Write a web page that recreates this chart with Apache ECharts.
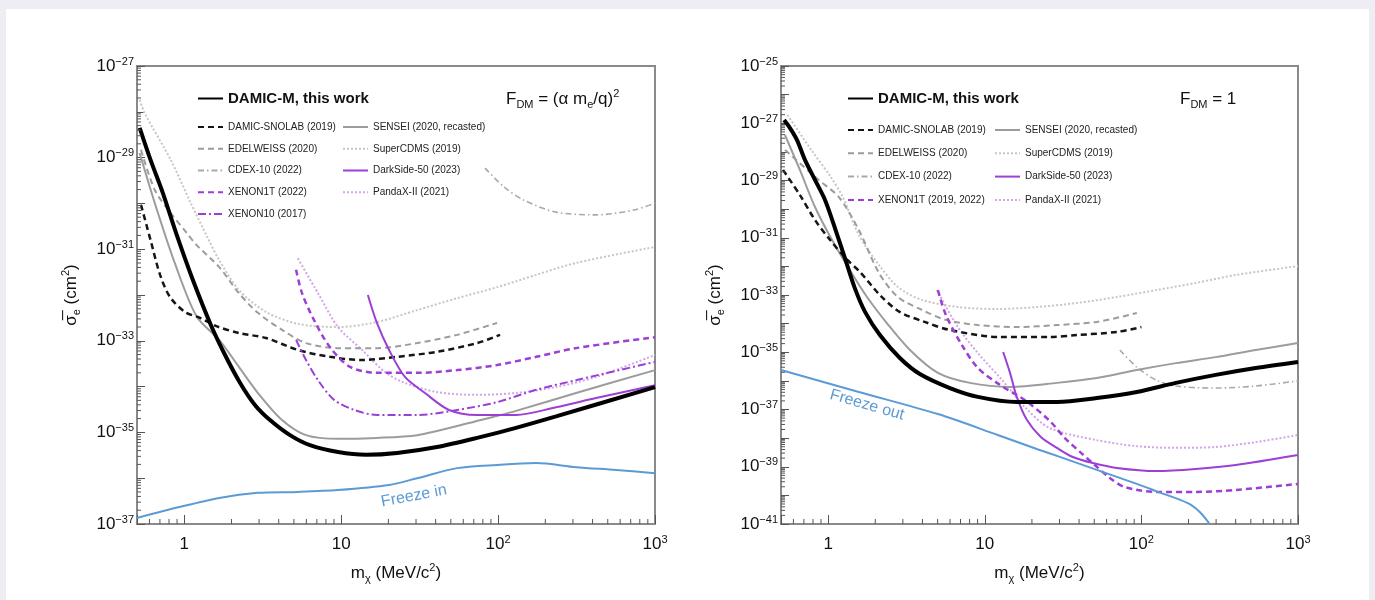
<!DOCTYPE html>
<html><head><meta charset="utf-8">
<script src="https://cdn.jsdelivr.net/npm/echarts@6/dist/echarts.min.js"></script>
<style>
html,body{margin:0;padding:0;background:#eeedf3;width:1375px;height:600px;overflow:hidden}
#card{position:absolute;left:6px;top:9px;width:1363px;height:600px;background:#fff}
#chart{position:absolute;left:0;top:0;width:1375px;height:600px}
</style></head><body><div id="card"></div><div id="chart"></div>
<script>
// ---------- Axis ranges / tick labels ----------
const xRange = [0.5, 1000];
const yRangeLeft = [-37, -27];   // log10(sigma_e / cm^2)
const yRangeRight = [-41, -25];
const minorMult = [2, 3, 4, 5, 6, 7, 8, 9];

// ---------- Left panel: F_DM = (alpha m_e / q)^2 ; values are log10(sigma_e/cm^2) ----------
const damicM_L_m = [0.52, 0.61, 0.73, 0.90, 1.14, 1.48, 1.82, 2.27, 2.82, 3.52, 4.72, 6.33, 9.55, 14.4, 22.7, 40.8, 73.5, 130, 234, 1000];
const damicM_L_s = [-28.35, -29.05, -29.77, -30.71, -31.69, -32.66, -33.31, -33.92, -34.40, -34.73, -35.06, -35.28, -35.43, -35.49, -35.45, -35.32, -35.12, -34.90, -34.65, -34.01];
const sensei_L_m = [0.52, 0.65, 0.87, 1.20, 1.67, 2.23, 2.95, 4.20, 5.97, 9.55, 16.9, 30.5, 54.8, 98.5, 130, 314, 1000];
const sensei_L_s = [-28.9, -30.0, -31.3, -32.47, -32.98, -33.57, -34.14, -34.73, -35.06, -35.14, -35.12, -35.06, -34.86, -34.64, -34.53, -34.14, -33.64];
const snolab_L_m = [0.53, 0.61, 0.70, 0.81, 1.01, 1.26, 1.60, 2.23, 3.32, 5.31, 8.49, 13.6, 22.7, 40.8, 73.5, 103];
const snolab_L_s = [-30.03, -30.80, -31.55, -32.04, -32.37, -32.50, -32.68, -32.83, -32.94, -33.20, -33.35, -33.42, -33.35, -33.24, -33.05, -32.87];
const edelweiss_L_m = [0.53, 0.65, 0.82, 1.04, 1.20, 1.67, 2.23, 2.95, 4.20, 5.97, 9.55, 16.9, 30.5, 54.8, 98.5];
const edelweiss_L_s = [-28.83, -29.71, -30.21, -30.65, -30.91, -31.39, -31.96, -32.39, -32.76, -33.05, -33.16, -33.16, -33.05, -32.87, -32.61];
const supercdms_L_m = [0.52, 0.56, 0.82, 1.10, 1.40, 1.67, 2.23, 3.32, 5.31, 9.55, 16.9, 30.5, 54.8, 98.5, 175, 314, 1000];
const supercdms_L_s = [-27.74, -28.03, -29.05, -29.99, -30.73, -31.24, -31.89, -32.37, -32.63, -32.70, -32.59, -32.33, -32.07, -31.83, -31.56, -31.30, -30.95];
const cdex_L_m = [82.6, 109, 146, 234, 421, 746, 1000];
const cdex_L_s = [-29.23, -29.64, -29.93, -30.19, -30.25, -30.14, -29.99];
const xenon1t_L_m = [5.16, 5.63, 6.72, 8.49, 11.4, 16.9, 30.5, 54.8, 98.5, 175, 314, 1000];
const xenon1t_L_s = [-31.45, -31.96, -32.55, -33.14, -33.57, -33.70, -33.70, -33.64, -33.53, -33.35, -33.16, -32.92];
const xenon10_L_m = [5.16, 5.97, 7.12, 9.01, 12.1, 16.9, 30.5, 54.8, 98.5, 175, 314, 1000];
const xenon10_L_s = [-32.98, -33.42, -33.86, -34.29, -34.51, -34.62, -34.62, -34.51, -34.34, -34.07, -33.86, -33.46];
const darkside_L_m = [14.8, 16.9, 20.2, 25.5, 34.2, 48.7, 73.5, 130, 234, 421, 1000];
const darkside_L_s = [-32.0, -32.61, -33.20, -33.79, -34.14, -34.51, -34.62, -34.62, -34.45, -34.25, -33.97];
const pandax_L_m = [5.3, 7.12, 9.55, 13.6, 19.0, 25.5, 40.8, 73.5, 130, 234, 421, 1000];
const pandax_L_s = [-31.2, -31.96, -32.70, -33.20, -33.68, -33.92, -34.12, -34.18, -34.14, -34.01, -33.79, -33.31];
const freezeIn_m = [0.5, 0.93, 1.67, 2.95, 5.31, 9.55, 20.2, 30.5, 54.8, 98.5, 175, 314, 565, 1000];
const freezeIn_s = [-36.87, -36.63, -36.43, -36.32, -36.30, -36.26, -36.15, -36.00, -35.78, -35.71, -35.67, -35.76, -35.82, -35.89];

// ---------- Right panel: F_DM = 1 ----------
const damicM_R_m = [0.523, 0.571, 0.633, 0.711, 0.824, 0.955, 1.105, 1.28, 1.48, 1.72, 2.14, 2.87, 3.85, 5.99, 9.04, 16.0, 28.9, 51.9, 93.5, 166, 298, 537, 1000];
const damicM_R_s = [-26.89, -27.17, -27.59, -28.28, -28.98, -29.68, -30.66, -31.71, -32.76, -33.59, -34.40, -35.20, -35.76, -36.25, -36.56, -36.74, -36.74, -36.60, -36.39, -36.07, -35.79, -35.55, -35.34];
const sensei_R_m = [0.53, 0.66, 0.82, 1.04, 1.40, 1.77, 2.37, 3.33, 5.02, 8.04, 14.5, 28.9, 51.9, 93.5, 166, 298, 537, 1000];
const sensei_R_s = [-27.41, -28.63, -29.90, -31.00, -32.20, -33.07, -33.98, -34.92, -35.72, -36.07, -36.21, -36.07, -35.90, -35.62, -35.38, -35.17, -34.92, -34.68];
const snolab_R_m = [0.515, 0.661, 0.824, 1.03, 1.29, 1.60, 2.14, 2.86, 4.13, 5.95, 12.5, 25.7, 38.7, 69.7, 100];
const snolab_R_s = [-28.63, -29.51, -30.38, -31.08, -31.71, -32.20, -33.00, -33.59, -33.94, -34.22, -34.47, -34.47, -34.40, -34.29, -34.12];
const edelweiss_R_m = [0.53, 0.87, 1.17, 1.57, 2.11, 2.79, 3.97, 5.65, 9.04, 16.0, 28.9, 51.9, 93.5];
const edelweiss_R_s = [-27.93, -28.98, -29.58, -30.73, -32.23, -33.07, -33.52, -33.87, -34.05, -34.12, -34.05, -33.94, -33.63];
const supercdms_R_m = [0.55, 0.78, 1.04, 1.24, 1.57, 2.11, 2.79, 3.97, 6.74, 12.1, 21.5, 38.7, 69.7, 124, 222, 401, 1000];
const supercdms_R_s = [-26.71, -27.93, -28.88, -29.58, -30.90, -31.95, -32.72, -33.17, -33.42, -33.49, -33.42, -33.28, -33.07, -32.83, -32.58, -32.30, -31.99];
const cdex_R_m = [72.9, 93.5, 124, 166, 298, 537, 1000];
const cdex_R_s = [-34.92, -35.52, -35.97, -36.18, -36.25, -36.18, -36.00];
const darkside_R_m = [13.1, 14.5, 16.0, 18.6, 22.8, 28.9, 36.5, 49.0, 69.7, 124, 222, 401, 1000];
const darkside_R_s = [-34.99, -35.72, -36.56, -37.37, -37.96, -38.34, -38.66, -38.87, -39.04, -39.15, -39.08, -38.94, -38.59];
const xenon1t_R_m = [5.02, 5.65, 7.15, 9.04, 12.5, 18.0, 25.7, 32.5, 40.5, 50.4, 62.9, 78.4, 124, 222, 401, 1000];
const xenon1t_R_s = [-32.83, -33.70, -34.75, -35.55, -36.14, -36.67, -37.37, -38.00, -38.48, -38.94, -39.39, -39.71, -39.88, -39.88, -39.81, -39.60];
const pandax_R_m = [4.95, 6.74, 9.04, 12.9, 18.0, 26.0, 51.9, 93.5, 166, 298, 537, 1000];
const pandax_R_s = [-32.83, -34.12, -35.03, -35.97, -36.91, -37.65, -38.07, -38.28, -38.34, -38.31, -38.14, -37.89];
const freezeOut_m = [0.5, 1.57, 5.02, 12.1, 21.5, 28.9, 51.9, 93.5, 124, 198, 236, 273];
const freezeOut_s = [-35.62, -36.39, -37.16, -37.89, -38.38, -38.62, -39.11, -39.60, -39.85, -40.27, -40.58, -41.0];

// ---------- Styles ----------
const FONT = "'Liberation Sans', Arial, Helvetica, sans-serif";
const PURPLE = '#9b3fd5';
const ST = {
  damicM:   {color: '#000000', width: 4, type: 'solid'},
  sensei:   {color: '#9c9c9c', width: 2, type: 'solid'},
  snolab:   {color: '#151515', width: 2.5, type: [6, 4]},
  edelweiss:{color: '#9c9c9c', width: 2, type: [6, 4]},
  supercdms:{color: '#c6c6c6', width: 2, type: [2, 2]},
  cdex:     {color: '#a9a9a9', width: 1.6, type: [6, 3, 1.5, 3]},
  xenon1t:  {color: PURPLE, width: 2.5, type: [6, 4]},
  xenon10:  {color: PURPLE, width: 2, type: [8, 3, 2, 3]},
  darkside: {color: PURPLE, width: 2, type: 'solid'},
  pandax:   {color: '#d2a4ea', width: 2, type: [2, 2]},
  freeze:   {color: '#5b9bd5', width: 2, type: 'solid'}
};

function line(name, m, s, st, g, z) {
  return {
    type: 'line', name: name, xAxisIndex: g, yAxisIndex: g,
    data: m.map((v, i) => [v, s[i]]),
    symbol: 'none', showSymbol: false, smooth: 0.3, silent: true,
    lineStyle: {color: st.color, width: st.width, type: st.type},
    itemStyle: {color: st.color},
    z: z || 2, animation: false
  };
}

function minorTicks(g, yr) {
  const xs = [], ys = [];
  [0.1, 1, 10, 100].forEach(d => minorMult.forEach(k => {
    const v = k * d; if (v > xRange[0] && v < xRange[1]) xs.push([v, yr[0]]);
  }));
  for (let e = yr[0]; e < yr[1]; e++) minorMult.forEach(k => ys.push([xRange[0], e + Math.log10(k)]));
  return [
    {type: 'custom', xAxisIndex: g, yAxisIndex: g, silent: true, z: 5, animation: false, data: xs,
     renderItem: (p, api) => { const c = api.coord([api.value(0), api.value(1)]);
       return {type: 'line', shape: {x1: c[0], y1: c[1], x2: c[0], y2: c[1] - 5}, style: {stroke: '#555', lineWidth: 1}}; }},
    {type: 'custom', xAxisIndex: g, yAxisIndex: g, silent: true, z: 5, animation: false, data: ys,
     renderItem: (p, api) => { const c = api.coord([api.value(0), api.value(1)]);
       return {type: 'line', shape: {x1: c[0], y1: c[1], x2: c[0] + 4, y2: c[1]}, style: {stroke: '#555', lineWidth: 1}}; }}
  ];
}

const labelRich = {
  b: {fontSize: 17, fontFamily: FONT, color: '#111', lineHeight: 20},
  s: {fontSize: 11, fontFamily: FONT, color: '#111', lineHeight: 11, verticalAlign: 'top'}
};
const nameRich = {
  a: {fontSize: 17, fontFamily: FONT, color: '#111', lineHeight: 22},
  sub: {fontSize: 11, fontFamily: FONT, color: '#111', lineHeight: 12, verticalAlign: 'bottom'},
  sup: {fontSize: 11, fontFamily: FONT, color: '#111', lineHeight: 12, verticalAlign: 'top'}
};

function xAxisDef(g) {
  return {
    type: 'log', logBase: 10, gridIndex: g, min: xRange[0], max: xRange[1],
    axisLine: {show: false}, splitLine: {show: false},
    axisTick: {inside: true, length: 9, lineStyle: {color: '#555', width: 1}},
    axisLabel: {margin: 10, rich: labelRich, formatter: v => {
      const e = Math.round(Math.log10(v));
      if (Math.abs(Math.log10(v) - e) > 1e-6) return '';
      if (e === 0) return '{b|1}';
      if (e === 1) return '{b|10}';
      return '{b|10}{s|' + e + '}';
    }},
    name: '{a|m}{sub|χ}{a| (MeV/c}{sup|2}{a|)}', nameLocation: 'middle', nameGap: 38,
    nameTextStyle: {rich: nameRich}
  };
}
function yAxisDef(g, yr) {
  return {
    type: 'value', gridIndex: g, min: yr[0], max: yr[1], interval: 1,
    axisLine: {show: false}, splitLine: {show: false},
    axisTick: {inside: true, length: 8, lineStyle: {color: '#555', width: 1}},
    axisLabel: {margin: 3, rich: labelRich, formatter: v => (Math.abs(v) % 2 === 1 ? '{b|10}{s|−' + Math.abs(v) + '}' : '')},
    name: '{a|σ\u0305}{sub|e}{a| (cm}{sup|2}{a|)}', nameLocation: 'middle', nameGap: 55, nameRotate: 90,
    nameTextStyle: {rich: nameRich}
  };
}

const legendText = {fontSize: 10, fontFamily: FONT, color: '#222', lineHeight: 12};
function legendDef(names, left, top, gap, big) {
  return {
    data: names, left: left, top: top, orient: 'vertical', padding: 0, itemGap: gap,
    itemWidth: 25, itemHeight: big ? 14 : 10, selectedMode: false,
    itemStyle: {opacity: 0},
    textStyle: big ? {fontSize: 15, fontWeight: 'bold', fontFamily: FONT, color: '#111'} : legendText
  };
}

const N = {
  dm: 'DAMIC-M, this work', sn: 'DAMIC-SNOLAB (2019)', ed: 'EDELWEISS (2020)', cd: 'CDEX-10 (2022)',
  x1L: 'XENON1T (2022)', x1R: 'XENON1T (2019, 2022)', x10: 'XENON10 (2017)',
  se: 'SENSEI (2020, recasted)', sc: 'SuperCDMS (2019)', ds: 'DarkSide-50 (2023)', pa: 'PandaX-II (2021)'
};

const series = [
  line(N.sc, supercdms_L_m, supercdms_L_s, ST.supercdms, 0),
  line(N.cd, cdex_L_m, cdex_L_s, ST.cdex, 0),
  line(N.pa, pandax_L_m, pandax_L_s, ST.pandax, 0),
  line(N.ed, edelweiss_L_m, edelweiss_L_s, ST.edelweiss, 0),
  line(N.se, sensei_L_m, sensei_L_s, ST.sensei, 0),
  line(N.sn, snolab_L_m, snolab_L_s, ST.snolab, 0),
  line(N.x1L, xenon1t_L_m, xenon1t_L_s, ST.xenon1t, 0),
  line(N.x10, xenon10_L_m, xenon10_L_s, ST.xenon10, 0),
  line(N.ds, darkside_L_m, darkside_L_s, ST.darkside, 0),
  line('Freeze in', freezeIn_m, freezeIn_s, ST.freeze, 0),
  line(N.dm, damicM_L_m, damicM_L_s, ST.damicM, 0, 4),

  line(N.sc, supercdms_R_m, supercdms_R_s, ST.supercdms, 1),
  line(N.cd, cdex_R_m, cdex_R_s, ST.cdex, 1),
  line(N.pa, pandax_R_m, pandax_R_s, ST.pandax, 1),
  line(N.ed, edelweiss_R_m, edelweiss_R_s, ST.edelweiss, 1),
  line(N.se, sensei_R_m, sensei_R_s, ST.sensei, 1),
  line(N.sn, snolab_R_m, snolab_R_s, ST.snolab, 1),
  line(N.x1R, xenon1t_R_m, xenon1t_R_s, ST.xenon1t, 1),
  line(N.ds, darkside_R_m, darkside_R_s, ST.darkside, 1),
  line('Freeze out', freezeOut_m, freezeOut_s, ST.freeze, 1),
  line(N.dm, damicM_R_m, damicM_R_s, ST.damicM, 1, 4)
].concat(minorTicks(0, yRangeLeft), minorTicks(1, yRangeRight));

const titleRich = {
  a: {fontSize: 17, fontFamily: FONT, fill: '#111', lineHeight: 22},
  sub: {fontSize: 11, fontFamily: FONT, fill: '#111', lineHeight: 12, verticalAlign: 'bottom'},
  sup: {fontSize: 11, fontFamily: FONT, fill: '#111', lineHeight: 12, verticalAlign: 'top'}
};

const option = {
  animation: false,
  backgroundColor: 'transparent',
  grid: [
    {left: 137, top: 66, width: 518, height: 458, show: true, borderColor: '#8a8a8a', borderWidth: 2, backgroundColor: 'transparent'},
    {left: 781, top: 66, width: 517, height: 458, show: true, borderColor: '#8a8a8a', borderWidth: 2, backgroundColor: 'transparent'}
  ],
  xAxis: [xAxisDef(0), xAxisDef(1)],
  yAxis: [yAxisDef(0, yRangeLeft), yAxisDef(1, yRangeRight)],
  legend: [
    legendDef([N.dm], 197, 91, 0, true),
    legendDef([N.sn, N.ed, N.cd, N.x1L, N.x10], 197, 121, 9.75),
    legendDef([N.se, N.sc, N.ds, N.pa], 342, 121, 9.75),
    legendDef([N.dm], 847, 91, 0, true),
    legendDef([N.sn, N.ed, N.cd, N.x1R], 847, 124, 11.3),
    legendDef([N.se, N.sc, N.ds, N.pa], 994, 124, 11.3)
  ],
  graphic: [
    {type: 'text', x: 506, y: 99, silent: true,
     style: {text: '{a|F}{sub|DM}{a| = (α m}{sub|e}{a|/q)}{sup|2}', rich: titleRich, verticalAlign: 'middle', align: 'left'}},
    {type: 'text', x: 1180, y: 99, silent: true,
     style: {text: '{a|F}{sub|DM}{a| = 1}', rich: titleRich, verticalAlign: 'middle', align: 'left'}},
    {type: 'text', x: 414, y: 496, rotation: 0.19, silent: true,
     style: {text: 'Freeze in', fill: '#5b9bd5', fontSize: 16, fontFamily: FONT, align: 'center', verticalAlign: 'middle'}},
    {type: 'text', x: 867, y: 405, rotation: -0.28, silent: true,
     style: {text: 'Freeze out', fill: '#5b9bd5', fontSize: 16, fontFamily: FONT, align: 'center', verticalAlign: 'middle'}}
  ],
  series: series
};

const chart = echarts.init(document.getElementById('chart'), null, {renderer: 'canvas'});
chart.setOption(option);
</script></body></html>
